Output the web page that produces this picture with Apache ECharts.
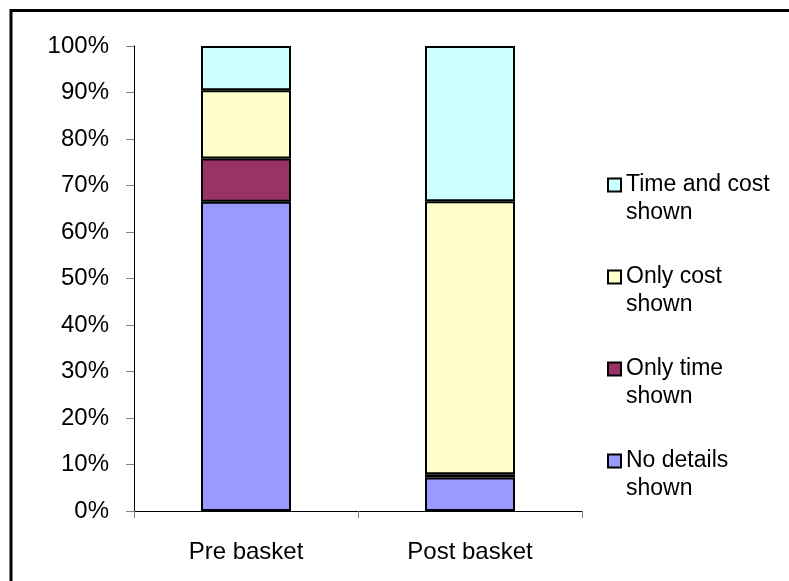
<!DOCTYPE html>
<html>
<head>
<meta charset="utf-8">
<script src="https://cdn.jsdelivr.net/npm/echarts@6/dist/echarts.min.js"></script>
<style>
  html, body { margin: 0; padding: 0; background: #fff; }
  #chart { width: 789px; height: 581px; }
</style>
</head>
<body>
<div id="chart"></div>
<script>
// Share of pages by which details were shown, before and after the basket step (%)
const categories = ['Pre basket', 'Post basket'];
const noDetails   = [66.5, 7.2];
const onlyTime    = [9.3, 0.7];
const onlyCost    = [14.7, 58.7];
const timeAndCost = [9.5, 33.4];

const seriesNames = ['No details shown', 'Only time shown', 'Only cost shown', 'Time and cost shown'];
const seriesValues = [noDetails, onlyTime, onlyCost, timeAndCost];
const seriesColors = ['#9999FF', '#993366', '#FFFFCC', '#CCFFFF'];

const FONT = '"Liberation Sans", Arial, sans-serif';

const chart = echarts.init(document.getElementById('chart'), null, { renderer: 'canvas' });

// Legend swatch sits beside the first line of a two-line label
const swatch = 'path://M0,0L13,0L13,13L0,13Z M0,41L0,41';

chart.setOption({
  backgroundColor: '#ffffff',
  animation: false,
  grid: { left: 134, right: 207, top: 46, bottom: 70, containLabel: false },
  graphic: [{
    type: 'rect',
    shape: { x: 11, y: 10.5, width: 1000, height: 1000 },
    style: { fill: 'none', stroke: '#000', lineWidth: 3 },
    silent: true,
    z: 100
  }],
  legend: {
    orient: 'vertical',
    left: 607,
    top: 171,
    padding: 0,
    itemGap: 36,
    itemWidth: 13,
    itemHeight: 41,
    icon: swatch,
    data: seriesNames.slice().reverse(),
    formatter: name => name.replace(/ shown$/, '\nshown'),
    textStyle: { fontFamily: FONT, fontSize: 23, color: '#000', lineHeight: 28 },
    itemStyle: { borderColor: '#000', borderWidth: 2 }
  },
  xAxis: {
    type: 'category',
    data: categories,
    axisLine: { lineStyle: { color: '#000', width: 1 } },
    axisTick: { show: true, length: 7, lineStyle: { color: '#808080' } },
    axisLabel: { fontFamily: FONT, fontSize: 24, color: '#000', margin: 29 },
    splitLine: { show: false }
  },
  yAxis: {
    type: 'value',
    min: 0,
    max: 100,
    interval: 10,
    axisLine: { show: true, lineStyle: { color: '#000', width: 1 } },
    axisTick: { show: true, length: 8, lineStyle: { color: '#808080' } },
    axisLabel: { fontFamily: FONT, fontSize: 24, color: '#000', margin: 25, formatter: '{value}%' },
    splitLine: { show: false }
  },
  series: seriesNames.map((name, i) => ({
    name: name,
    type: 'bar',
    stack: 'total',
    barWidth: 90,
    data: seriesValues[i],
    itemStyle: { color: seriesColors[i], borderColor: '#000', borderWidth: 2 }
  }))
});
</script>
</body>
</html>
